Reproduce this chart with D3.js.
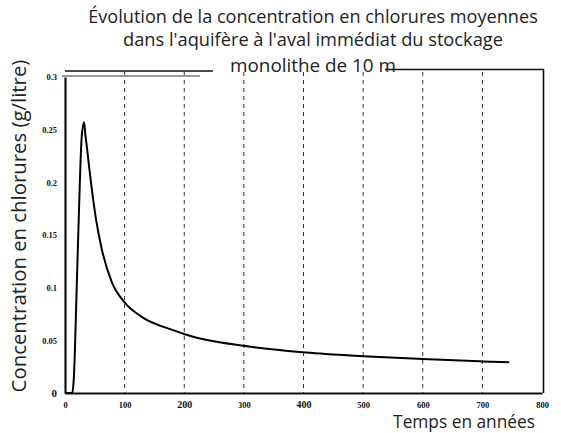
<!DOCTYPE html>
<html><head><meta charset="utf-8">
<script src="https://cdn.jsdelivr.net/npm/d3@7"></script>
<style>html,body{margin:0;padding:0;background:#fff;}svg{display:block;}text{font-variant-ligatures:none;}</style>
</head><body>
<script>
const titleLines = ["Évolution de la concentration en chlorures moyennes", "dans l'aquifère à l'aval immédiat du stockage", "monolithe de 10 m"];
const yLabel = "Concentration en chlorures (g/litre)";
const xLabel = "Temps en années";
const xTicks = [0, 100, 200, 300, 400, 500, 600, 700, 800];
const xTickLabels = ["0", "100", "200", "300", "400", "500", "600", "700", "800"];
const yTicks = [0, 0.05, 0.1, 0.15, 0.2, 0.25, 0.3];
const yTickLabels = ["0", "0.05", "0.1", "0.15", "0.2", "0.25", "0.3"];
const gridYears = [100, 200, 300, 400, 500, 600, 700];
const years = [0, 12, 14.6, 20, 25, 28, 32, 34, 37, 41, 46, 52, 61.5, 78, 100, 128, 185, 202, 303, 404, 500, 600, 700, 745];
const values = [0, 0, 0.012, 0.107, 0.202, 0.243, 0.257, 0.246, 0.232, 0.212, 0.189, 0.165, 0.137, 0.106, 0.086, 0.0725, 0.059, 0.0556, 0.0446, 0.0385, 0.0350, 0.0322, 0.0300, 0.0291];

const W = 561, H = 433;
const svg = d3.select("body").append("svg").attr("width", W).attr("height", H);
const x = d3.scaleLinear().domain([0, 800]).range([65, 542]);
const y = d3.scaleLinear().domain([0, 0.3]).range([393, 77]);
const sans = "'Open Sans', Lato, sans-serif";
const serif = "'Liberation Serif', 'DejaVu Serif', serif";

function fit(t, target) {
  const len = t.node().getComputedTextLength();
  const fs = parseFloat(t.attr("font-size"));
  t.attr("font-size", (fs * target / len).toFixed(2));
}

// gridlines
svg.append("g").selectAll("line").data(gridYears).join("line")
  .attr("x1", d => x(d)).attr("x2", d => x(d))
  .attr("y1", 72).attr("y2", y(0))
  .attr("stroke", "#333").attr("stroke-width", 1).attr("stroke-dasharray", "4,4");

// frame
const frame = svg.append("g").attr("fill", "none");
frame.append("line").attr("x1", x(0)).attr("x2", 213).attr("y1", 71).attr("y2", 71).attr("stroke", "#111").attr("stroke-width", 1.5);
frame.append("line").attr("x1", 385).attr("x2", 544).attr("y1", 69.5).attr("y2", 69.5).attr("stroke", "#111").attr("stroke-width", 1.5);
frame.append("line").attr("x1", 543.5).attr("x2", 543.5).attr("y1", 69).attr("y2", 393).attr("stroke", "#111").attr("stroke-width", 1.6);
frame.append("line").attr("x1", 62).attr("x2", 200).attr("y1", 76).attr("y2", 76).attr("stroke", "#999").attr("stroke-width", 2.2);

// axes
const xAxis = svg.append("g").attr("transform", `translate(0,${y(0)})`)
  .call(d3.axisBottom(x).tickValues(xTicks).tickSize(0).tickFormat((d, i) => xTickLabels[i]));
xAxis.select(".domain").attr("stroke", "#111").attr("stroke-width", 2);
xAxis.selectAll("text").attr("font-family", serif).attr("font-weight", "bold")
  .attr("font-size", (d) => (d === 200 || d === 400) ? 10 : 8.5).attr("fill", "#111")
  .attr("dy", "0").attr("y", 15);

const yAxis = svg.append("g").attr("transform", `translate(${x(0)},0)`)
  .call(d3.axisLeft(y).tickValues(yTicks).tickSize(0).tickFormat((d, i) => yTickLabels[i]));
yAxis.select(".domain").attr("stroke", "#111").attr("stroke-width", 2.2);
yAxis.selectAll("text").attr("font-family", serif).attr("font-weight", "bold")
  .attr("font-size", d => d === 0 ? 11 : 8.5).attr("fill", "#111").attr("x", -8);

// curve
const line = d3.line().x((d, i) => x(years[i])).y(d => y(d)).curve(d3.curveMonotoneX);
svg.append("path").datum(values).attr("d", line)
  .attr("fill", "none").attr("stroke", "#000").attr("stroke-width", 2);

// title
const tY = [23, 46, 72];
const tW = [450, 380, 166];
const tS = [17, 17, 18];
titleLines.forEach((s, i) => {
  const t = svg.append("text").attr("x", 313).attr("y", tY[i]).attr("text-anchor", "middle")
    .attr("font-family", sans).attr("font-size", tS[i]).attr("fill", "#222").text(s);
  fit(t, tW[i]);
});

// axis labels
const xl = svg.append("text").attr("x", 535).attr("y", 428).attr("text-anchor", "end")
  .attr("font-family", sans).attr("font-size", 17).attr("fill", "#222").text(xLabel);
fit(xl, 142);
const yl = svg.append("text").attr("transform", "translate(26,226) rotate(-90)").attr("text-anchor", "middle")
  .attr("font-family", sans).attr("font-size", 17).attr("fill", "#222").text(yLabel);
fit(yl, 333);
</script>
</body></html>
